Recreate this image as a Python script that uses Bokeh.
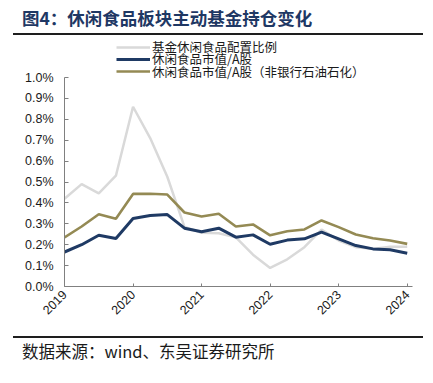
from bokeh.plotting import figure
from bokeh.layouts import column
from bokeh.models import (Range1d, FixedTicker, PrintfTickFormatter, Legend, LegendItem,
                          ColumnDataSource, Div)
from bokeh.embed import file_html
from bokeh.resources import INLINE

# ---- data (percent) ----
quarters = ["2019Q1", "2019Q2", "2019Q3", "2019Q4",
            "2020Q1", "2020Q2", "2020Q3", "2020Q4",
            "2021Q1", "2021Q2", "2021Q3", "2021Q4",
            "2022Q1", "2022Q2", "2022Q3", "2022Q4",
            "2023Q1", "2023Q2", "2023Q3", "2023Q4",
            "2024Q1"]
fund_alloc = [0.42, 0.49, 0.446, 0.53, 0.86, 0.71, 0.525, 0.285,
              0.257, 0.255, 0.235, 0.152, 0.089, 0.13, 0.188, 0.272,
              0.22, 0.188, 0.18, 0.19, 0.19]
mkt_share = [0.165, 0.20, 0.245, 0.23, 0.325, 0.34, 0.344, 0.279,
             0.262, 0.279, 0.236, 0.247, 0.202, 0.222, 0.228, 0.26,
             0.228, 0.196, 0.18, 0.176, 0.159]
mkt_share_ex = [0.235, 0.287, 0.346, 0.324, 0.443, 0.444, 0.44, 0.354,
                0.335, 0.348, 0.287, 0.297, 0.245, 0.264, 0.273, 0.316,
                0.284, 0.249, 0.231, 0.22, 0.204]
series_names = ["基金休闲食品配置比例", "休闲食品市值/A股", "休闲食品市值/A股（非银行石油石化）"]
year_ticks = [2019, 2020, 2021, 2022, 2023, 2024]
y_ticks = [0.0, 0.1, 0.2, 0.3, 0.4, 0.5, 0.6, 0.7, 0.8, 0.9, 1.0]
title_text = "图4：休闲食品板块主动基金持仓变化"
source_text = "数据来源：wind、东吴证券研究所"

W = 433
CJK = "'Noto Sans CJK SC'"
RULE = "#1e1e1e"

# ---------- header (title + rule drawn as the Div's own bottom border) ----------
header = Div(width=410, height=35, margin=(0, 10, 2, 13),
             styles={"border-bottom": f"2px solid {RULE}", "box-sizing": "border-box"},
             text=(f'<div style="padding:3px 0 0 9px;line-height:30px;white-space:nowrap;'
                   f'font-family:{CJK};font-size:17.5px;font-weight:bold;color:#1f3864;">'
                   f'{title_text}</div>'))

# ---------- chart ----------
xq = [int(q[:4]) + (int(q[5]) - 1) * 0.25 for q in quarters]
src = ColumnDataSource(dict(x=xq, a=fund_alloc, b=mkt_share, c=mkt_share_ex))

HM = 293  # page y 37 .. 330
p = figure(width=W, height=HM, output_backend="svg", toolbar_location=None,
           x_range=Range1d(2019, 2024.077), y_range=Range1d(0, 1.0 + 40 / 209),
           min_border_left=64, min_border_right=21, min_border_top=0, min_border_bottom=44)
p.outline_line_color = None
p.xgrid.visible = False
p.ygrid.visible = False
p.margin = 0

GRAY = "#d9d9d9"
NAVY = "#1f3a64"
GOLD = "#948a54"

r1 = p.line("x", "a", source=src, line_color=GRAY, line_width=2.5)
r2 = p.line("x", "b", source=src, line_color=NAVY, line_width=3)
r3 = p.line("x", "c", source=src, line_color=GOLD, line_width=2.6)

AX = "#808080"
xa = p.xaxis[0]
xa.ticker = FixedTicker(ticks=year_ticks)
xa.major_label_orientation = 0.785398
xa.axis_line_color = AX
xa.major_tick_line_color = AX
xa.major_tick_in = 3
xa.major_tick_out = 0
xa.minor_tick_line_color = None
xa.major_label_text_font = "Liberation Sans"
xa.major_label_text_font_size = "12.5px"
xa.major_label_text_color = "#1a1a1a"
xa.major_label_standoff = 6

ya = p.yaxis[0]
ya.ticker = FixedTicker(ticks=y_ticks)
ya.formatter = PrintfTickFormatter(format="%.1f%%")
ya.bounds = (0, 1.0)
ya.axis_line_color = AX
ya.major_tick_line_color = AX
ya.major_tick_in = 4
ya.major_tick_out = 0
ya.minor_tick_line_color = None
ya.major_label_text_font = "Liberation Sans"
ya.major_label_text_font_size = "12.5px"
ya.major_label_text_color = "#1a1a1a"
ya.major_label_standoff = 11

# one single-item legend per row so row spacing can be tight
for r, name, yb in zip([r1, r2, r3], series_names, [230, 217.7, 205.3]):
    lg = Legend(items=[LegendItem(label=name, renderers=[r])],
                location=(52, yb), orientation="vertical",
                glyph_width=34, glyph_height=18, label_height=18, spacing=0,
                label_standoff=2, padding=0, margin=0,
                border_line_color=None, background_fill_alpha=0,
                label_text_font="Noto Sans CJK SC", label_text_font_size="12.5px",
                label_text_color="#1a1a1a")
    p.add_layout(lg, "center")

# ---------- footer (rule drawn as the Div's own top border) ----------
footer = Div(width=410, height=46, margin=(6, 10, 0, 13),
             styles={"border-top": f"2px solid {RULE}", "box-sizing": "border-box"},
             text=(f'<div style="padding-left:9px;line-height:27px;white-space:nowrap;'
                   f'font-family:{CJK};font-size:16.5px;color:#1a1a1a;">{source_text}</div>'))

layout = column(header, p, footer, spacing=0)
open("out.html", "w").write(file_html(layout, INLINE))
